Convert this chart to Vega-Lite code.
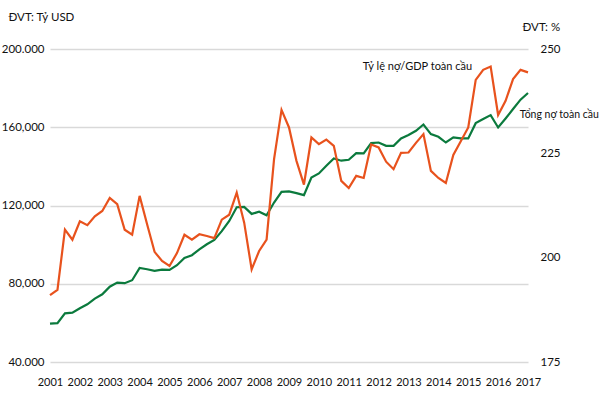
{
  "$schema": "https://vega.github.io/schema/vega-lite/v6.json",
  "width": 478,
  "height": 313,
  "autosize": {"type": "none"},
  "padding": {"left": 50, "top": 49, "right": 72, "bottom": 38},
  "background": "white",
  "config": {
    "view": {"stroke": null},
    "font": "Lato",
    "text": {"font": "Lato"},
    "axis": {"labelFont": "Lato", "labelFontSize": 11.5, "labelColor": "#111111", "titleFont": "Lato", "titleFontSize": 11.5, "titleFontWeight": "normal", "titleColor": "#111111", "domain": false, "ticks": false, "labelOverlap": false},
    "axisX": {"labelOverlap": false, "labelFontSize": 11},
    "axisQuantitative": {"labelOverlap": false}
  },
  "datasets": {
    "main": [
      {"q": 2001.00, "debt": 59600, "ratio": 191.0},
      {"q": 2001.25, "debt": 59900, "ratio": 192.3},
      {"q": 2001.50, "debt": 64900, "ratio": 206.7},
      {"q": 2001.75, "debt": 65200, "ratio": 204.3},
      {"q": 2002.00, "debt": 67500, "ratio": 208.7},
      {"q": 2002.25, "debt": 69500, "ratio": 207.8},
      {"q": 2002.50, "debt": 72400, "ratio": 209.9},
      {"q": 2002.75, "debt": 74600, "ratio": 211.2},
      {"q": 2003.00, "debt": 78500, "ratio": 214.3},
      {"q": 2003.25, "debt": 80600, "ratio": 212.8},
      {"q": 2003.50, "debt": 80300, "ratio": 206.7},
      {"q": 2003.75, "debt": 81800, "ratio": 205.5},
      {"q": 2004.00, "debt": 88100, "ratio": 214.8},
      {"q": 2004.25, "debt": 87400, "ratio": 208.0},
      {"q": 2004.50, "debt": 86600, "ratio": 201.4},
      {"q": 2004.75, "debt": 87200, "ratio": 199.2},
      {"q": 2005.00, "debt": 87100, "ratio": 198.0},
      {"q": 2005.25, "debt": 89500, "ratio": 201.1},
      {"q": 2005.50, "debt": 93200, "ratio": 205.5},
      {"q": 2005.75, "debt": 94600, "ratio": 204.3},
      {"q": 2006.00, "debt": 97600, "ratio": 205.6},
      {"q": 2006.25, "debt": 100200, "ratio": 205.2},
      {"q": 2006.50, "debt": 102400, "ratio": 204.7},
      {"q": 2006.75, "debt": 106900, "ratio": 209.1},
      {"q": 2007.00, "debt": 112100, "ratio": 210.3},
      {"q": 2007.25, "debt": 119100, "ratio": 215.6},
      {"q": 2007.50, "debt": 119300, "ratio": 208.4},
      {"q": 2007.75, "debt": 115700, "ratio": 197.2},
      {"q": 2008.00, "debt": 116800, "ratio": 201.6},
      {"q": 2008.25, "debt": 115000, "ratio": 204.3},
      {"q": 2008.50, "debt": 121500, "ratio": 223.6},
      {"q": 2008.75, "debt": 127000, "ratio": 235.4},
      {"q": 2009.00, "debt": 127200, "ratio": 231.2},
      {"q": 2009.25, "debt": 126300, "ratio": 223.2},
      {"q": 2009.50, "debt": 125300, "ratio": 217.5},
      {"q": 2009.75, "debt": 134300, "ratio": 228.8},
      {"q": 2010.00, "debt": 136400, "ratio": 227.2},
      {"q": 2010.25, "debt": 140300, "ratio": 228.3},
      {"q": 2010.50, "debt": 144000, "ratio": 226.8},
      {"q": 2010.75, "debt": 142900, "ratio": 218.4},
      {"q": 2011.00, "debt": 143400, "ratio": 216.7},
      {"q": 2011.25, "debt": 146800, "ratio": 219.6},
      {"q": 2011.50, "debt": 146600, "ratio": 219.1},
      {"q": 2011.75, "debt": 151900, "ratio": 227.1},
      {"q": 2012.00, "debt": 152200, "ratio": 226.4},
      {"q": 2012.25, "debt": 150500, "ratio": 223.0},
      {"q": 2012.50, "debt": 150500, "ratio": 221.2},
      {"q": 2012.75, "debt": 154300, "ratio": 225.1},
      {"q": 2013.00, "debt": 156000, "ratio": 225.2},
      {"q": 2013.25, "debt": 158200, "ratio": 227.5},
      {"q": 2013.50, "debt": 161400, "ratio": 229.6},
      {"q": 2013.75, "debt": 156500, "ratio": 220.8},
      {"q": 2014.00, "debt": 155100, "ratio": 219.1},
      {"q": 2014.25, "debt": 152200, "ratio": 217.9},
      {"q": 2014.50, "debt": 154800, "ratio": 224.6},
      {"q": 2014.75, "debt": 154300, "ratio": 227.9},
      {"q": 2015.00, "debt": 154300, "ratio": 231.2},
      {"q": 2015.25, "debt": 162100, "ratio": 242.6},
      {"q": 2015.50, "debt": 164200, "ratio": 245.0},
      {"q": 2015.75, "debt": 166200, "ratio": 245.8},
      {"q": 2016.00, "debt": 159900, "ratio": 234.2},
      {"q": 2016.25, "debt": 164500, "ratio": 237.6},
      {"q": 2016.50, "debt": 169300, "ratio": 242.8},
      {"q": 2016.75, "debt": 174100, "ratio": 245.0},
      {"q": 2017.00, "debt": 177500, "ratio": 244.4}
    ]
  },
  "encoding": {
    "x": {"field": "q", "type": "quantitative", "scale": {"domain": [2001, 2017], "nice": false, "zero": false},
          "axis": {"values": [2001,2002,2003,2004,2005,2006,2007,2008,2009,2010,2011,2012,2013,2014,2015,2016,2017], "format": "d", "title": null, "grid": false, "labelPadding": 14, "labelFlush": false, "labelOverlap": false, "labelSeparation": 0, "labelFontSize": 11}}
  },
  "layer": [
    {
      "data": {"name": "main"},
      "mark": {"type": "line", "color": "#0B7A3D", "strokeWidth": 2.2},
      "encoding": {
        "y": {"field": "debt", "type": "quantitative", "scale": {"domain": [40000, 200000], "nice": false, "zero": false},
              "axis": {"orient": "left", "values": [40000, 80000, 120000, 160000, 200000],
                       "labelExpr": "datum.value == 200000 ? '200.000' : datum.value == 40000 ? '40.000' : format(datum.value, ',')",
                       "grid": true, "gridColor": "#d9d9d9", "gridWidth": 1.5, "labelPadding": 6,
                       "title": "ĐVT: Tỷ USD", "titleAngle": 0, "titleX": -42, "titleY": -32, "titleAlign": "left", "titleBaseline": "middle"}}
      }
    },
    {
      "data": {"name": "main"},
      "mark": {"type": "line", "color": "#E8521D", "strokeWidth": 2.2},
      "encoding": {
        "y": {"field": "ratio", "type": "quantitative", "scale": {"domain": [175, 250], "nice": false, "zero": false},
              "axis": {"orient": "right", "values": [175, 200, 225, 250], "grid": false, "labelPadding": 12,
                       "title": "ĐVT: %", "titleAngle": 0, "titleX": -6, "titleY": -22, "titleAlign": "left", "titleBaseline": "middle"}}
      }
    },
    {
      "data": {"values": [{"name": "Tổng nợ toàn cầu", "q": 2016.72, "debt": 166200}]},
      "mark": {"type": "text", "align": "left", "baseline": "middle", "fontSize": 10.5, "color": "#111111", "font": "Lato"},
      "encoding": {
        "y": {"field": "debt", "type": "quantitative", "scale": {"domain": [40000, 200000], "nice": false, "zero": false}, "axis": null},
        "text": {"field": "name"}
      }
    },
    {
      "data": {"values": [{"name": "Tỷ lệ nợ/GDP toàn cầu", "q": 2013.3, "ratio": 245.7}]},
      "mark": {"type": "text", "align": "center", "baseline": "middle", "fontSize": 11, "color": "#111111", "font": "Lato"},
      "encoding": {
        "y": {"field": "ratio", "type": "quantitative", "scale": {"domain": [175, 250], "nice": false, "zero": false}, "axis": null},
        "text": {"field": "name"}
      }
    }
  ],
  "resolve": {"scale": {"y": "independent"}}
}
